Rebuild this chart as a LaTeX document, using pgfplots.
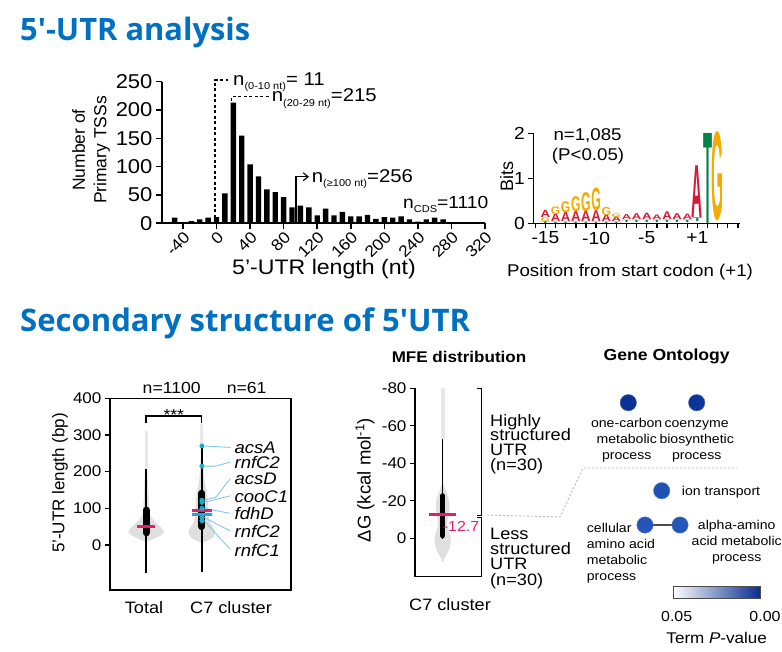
\documentclass[border=0pt]{standalone}
\usepackage{fontspec}
\setmainfont{Liberation Sans}[FakeStretch=1.1]
\newfontfamily\rotfont{Liberation Sans}
\newfontfamily\titlefont{Open Sans}
\usepackage{graphicx}
\usepackage{pgfplots}
\pgfplotsset{compat=1.18}
\usetikzlibrary{arrows.meta}
\newcommand\fs[1]{\fontsize{#1}{#1}\selectfont}
\newcommand\sub[1]{\raisebox{-4.5pt}{\fs{10}#1}}
\definecolor{titleblue}{RGB}{0,112,192}
\definecolor{vmag}{RGB}{228,30,110}
\definecolor{vblue}{RGB}{40,160,230}
\definecolor{vcyan}{RGB}{20,175,205}
\definecolor{lead}{RGB}{120,195,235}
\definecolor{logoA}{RGB}{215,25,55}
\definecolor{logoG}{RGB}{245,170,0}
\definecolor{logoT}{RGB}{0,130,70}
\definecolor{goDark}{RGB}{8,45,145}
\pgfplotsset{colormap={goblue}{rgb255(0cm)=(8,45,145) rgb255(1cm)=(40,90,190) rgb255(5cm)=(255,255,255)}}
\begin{document}
\begin{tikzpicture}
\useasboundingbox (0,0) rectangle (782pt,651pt);
\fill[white] (0,0) rectangle (782pt,651pt);

% ---------------- histogram
\begin{axis}[at={(162pt,427.7pt)}, anchor=south west, scale only axis,
  width=323pt, height=141.6pt, xmin=-65, xmax=320, ymin=0, ymax=250,
  axis lines=left, axis line style={-, line width=1.6pt},
  tick style={black, line width=1.6pt}, major tick length=6pt, tick align=outside,
  xtick={-40,0,...,320}, ytick={0,50,...,250},
  xticklabel style={rotate=45, anchor=north east, font=\fs{16}, inner sep=0.5pt},
  yticklabel style={font=\fs{20}},
  /pgf/number format/assume math mode=true, clip=false]
\addplot[ybar, bar width=5.4pt, fill=black, draw=none] coordinates {
(-50,10) (-40,1.5) (-30,4) (-20,7) (-10,10) (0,11) (10,53) (20,213) (30,155)
(40,104) (50,83) (60,60) (70,55) (80,46) (90,28) (100,31) (110,28) (120,14)
(130,26) (140,14) (150,20) (160,12) (170,12) (180,15) (190,8) (200,11) (210,10)
(220,12) (230,7) (240,3) (250,7) (260,10) (270,7) (290,2)};
\end{axis}

% ---------------- sequence logo
\begin{axis}[at={(533.3pt,427.7pt)}, anchor=south west, scale only axis,
  width=206.7pt, height=90pt, xmin=-16.2, xmax=4.2, ymin=0, ymax=2,
  axis lines=left, axis line style={-, line width=1.5pt},
  tick style={black, line width=1.3pt}, major tick length=5pt, minor tick length=5pt,
  tick align=outside, xtick={-15,-10,-5,0}, xticklabels={-15,-10,-5,+1},
  minor xtick={-16,...,4}, ytick={0,1,2}, ticklabel style={font=\fs{17.5}},
  /pgf/number format/assume math mode=true, clip=false]
\addplot[draw=none, mark=none, nodes near coords={\resizebox{\ww pt}{\hh pt}{\bfseries T}},
  every node near coord/.style={anchor=south, inner sep=0pt, outer sep=0pt, text=logoT},
  visualization depends on={45*\thisrow{h} \as \hh},
  visualization depends on={\thisrow{w} \as \ww}] table {
x y h w
-15 0 0.04 9
-14 0 0.03 9
-13 0 0.03 9
-12 0 0.03 9
-11 0 0.03 9
-10 0 0.03 9
-9 0 0.03 9
-8 0 0.03 9
-7 0.02 0.05 9
-6 0.02 0.05 9
-5 0.02 0.05 9
-4 0.02 0.05 9
-3 0.02 0.05 9
-2 0.02 0.05 9
-1 0.02 0.05 9
0 0.03 0.08 9
1 0 2.0 9
};
\addplot[draw=none, mark=none, nodes near coords={\resizebox{\ww pt}{\hh pt}{\bfseries A}},
  every node near coord/.style={anchor=south, inner sep=0pt, outer sep=0pt, text=logoA},
  visualization depends on={45*\thisrow{h} \as \hh},
  visualization depends on={\thisrow{w} \as \ww}] table {
x y h w
-15 0.12 0.16 9.5
-14 0.03 0.17 9.5
-13 0.03 0.20 9.5
-12 0.03 0.22 9.5
-11 0.03 0.23 9.5
-10 0.03 0.24 9.5
-9 0.03 0.15 9.5
-8 0.03 0.10 9.5
-7 0.08 0.11 9.5
-6 0.08 0.13 9.5
-5 0.08 0.14 9.5
-4 0.08 0.10 9.5
-3 0.08 0.17 9.5
-2 0.08 0.13 9.5
-1 0.08 0.12 9.5
0 0.13 1.15 11
};
\addplot[draw=none, mark=none, nodes near coords={\resizebox{\ww pt}{\hh pt}{\bfseries G}},
  every node near coord/.style={anchor=south, inner sep=0pt, outer sep=0pt, text=logoG},
  visualization depends on={45*\thisrow{h} \as \hh},
  visualization depends on={\thisrow{w} \as \ww}] table {
x y h w
-15 0.04 0.08 9.5
-14 0.20 0.17 9.5
-13 0.23 0.24 9.5
-12 0.25 0.33 9.5
-11 0.26 0.42 9.5
-10 0.27 0.50 9.5
-9 0.18 0.18 9.5
-8 0.13 0.08 9.5
2 0.05 1.95 12
};
\end{axis}

% ---------------- violin plot
\begin{axis}[at={(110pt,61pt)}, anchor=south west, scale only axis,
  width=181pt, height=191.7pt, xmin=-0.65, xmax=2.6, ymin=-123, ymax=400,
  axis line style={line width=1.3pt}, xtick=\empty, ytick={0,100,...,400},
  ytick pos=left, tick align=outside, major tick length=5pt,
  tick style={black, line width=1.3pt}, yticklabel style={font=\fs{15.5}},
  /pgf/number format/assume math mode=true, clip=false]
% tails
\addplot[gray!18, line width=3pt] coordinates {(0,206) (0,312)};
\addplot[gray!18, line width=3pt] coordinates {(1,270) (1,330)};
% violins
\addplot[fill=gray!25, draw=none] coordinates {
(0,8) (0.108,15) (0.251,25) (0.323,35) (0.287,45) (0.215,55) (0.144,65) (0.09,75)
(0.063,85) (0.054,100) (0.043,130) (0.032,160) (0.022,200) (0,210) (-0.022,200)
(-0.032,160) (-0.043,130) (-0.054,100) (-0.063,85) (-0.09,75) (-0.144,65)
(-0.215,55) (-0.287,45) (-0.323,35) (-0.251,25) (-0.108,15)} -- cycle;
\addplot[fill=gray!25, draw=none] coordinates {
(1,5) (1.108,12) (1.197,20) (1.233,30) (1.233,40) (1.197,50) (1.153,60) (1.126,75)
(1.117,90) (1.108,110) (1.099,130) (1.081,150) (1.054,170) (1.032,200) (1.018,240)
(1,270) (0.982,240) (0.968,200) (0.946,170) (0.919,150) (0.901,130) (0.892,110)
(0.883,90) (0.874,75) (0.847,60) (0.803,50) (0.767,40) (0.767,30) (0.803,20)
(0.892,12)} -- cycle;
% whiskers and boxes
\addplot[black, line width=1.6pt] coordinates {(0,-77) (0,206)};
\addplot[black, line width=1.6pt] coordinates {(1,-73) (1,270)};
\addplot[black, line width=7pt, line cap=round] coordinates {(0,33) (0,95)};
\addplot[black, line width=7pt, line cap=round] coordinates {(1,50) (1,141)};
% leader lines
\addplot[lead, line width=0.8pt] coordinates {(1.04,270) (1.51,266)};
\addplot[lead, line width=0.8pt] coordinates {(1.04,215) (1.25,215) (1.51,226)};
\addplot[lead, line width=0.8pt] coordinates {(1.04,122) (1.25,130) (1.51,181)};
\addplot[lead, line width=0.8pt] coordinates {(1.04,116) (1.51,134)};
\addplot[lead, line width=0.8pt] coordinates {(1.04,100) (1.51,86)};
\addplot[lead, line width=0.8pt] coordinates {(1.04,75) (1.51,38)};
\addplot[lead, line width=0.8pt] coordinates {(1.04,66) (1.51,-12)};
% medians
\addplot[vmag, line width=3pt] coordinates {(-0.16,50) (0.16,50)};
\addplot[vmag, line width=3pt] coordinates {(0.82,93) (1.18,93)};
\addplot[vblue, line width=3pt] coordinates {(0.82,83) (1.18,83)};
% dots
\addplot[only marks, mark=*, mark size=2.2pt, vcyan] coordinates {
(1,270) (1,215) (1,122) (1,116) (1,100) (1,75) (1,66)};
\foreach \yy/\tt in {264.5/acsA, 224/rnfC2, 179/acsD, 132/cooC1, 84.5/fdhD, 36/rnfC2, -14/rnfC1}{
  \edef\temp{\noexpand\node[anchor=west, inner sep=0pt, font=\noexpand\fs{16.8}\noexpand\itshape] at (axis cs:1.585,\yy) {\tt};}
  \temp}
\end{axis}

% ---------------- MFE
\begin{axis}[at={(415pt,74.3pt)}, anchor=south west, scale only axis,
  width=66.7pt, height=188.4pt, xmin=-0.83, xmax=1.17, ymin=-80, ymax=20.5,
  y dir=reverse, axis line style={draw=none}, xtick=\empty, ytick={-80,-60,...,0},
  ytick pos=left, tick align=outside, major tick length=5pt,
  tick style={black, line width=1.3pt}, yticklabel style={font=\fs{15.5}},
  /pgf/number format/assume math mode=true, clip=false]
\draw[line width=1.3pt] (axis cs:-0.83,-80) -- (axis cs:-0.83,20.5) -- (axis cs:1.17,20.5);
\draw[line width=1.3pt] (axis cs:1.02,-80) -- (axis cs:1.17,-80) -- (axis cs:1.17,-12.3) -- (axis cs:1.02,-12.3);
\draw[line width=1.3pt] (axis cs:1.02,-11.2) -- (axis cs:1.17,-11.2) -- (axis cs:1.17,20.5);
\addplot[gray!18, line width=4pt] coordinates {(0,-53) (0,-80)};
\addplot[fill=gray!25, draw=none] coordinates {
(0,-30) (0.06,-27) (0.12,-24) (0.195,-20) (0.21,-16) (0.18,-13) (0.15,-10) (0.135,-7)
(0.18,-4) (0.24,-1) (0.24,2) (0.21,5) (0.135,8) (0.045,11) (0,13) (-0.045,11)
(-0.135,8) (-0.21,5) (-0.24,2) (-0.24,-1) (-0.18,-4) (-0.135,-7) (-0.15,-10)
(-0.18,-13) (-0.21,-16) (-0.195,-20) (-0.12,-24) (-0.06,-27)} -- cycle;
\addplot[black, line width=1.6pt] coordinates {(0,0.5) (0,-53)};
\addplot[black, line width=5pt, line cap=round] coordinates {(0,-1.3) (0,-22.7)};
\addplot[vmag, line width=3pt] coordinates {(-0.41,-12.7) (0.41,-12.7)};
\end{axis}

% ---------------- overlay (pixel coordinates)
\begin{axis}[at={(0pt,0pt)}, anchor=south west, scale only axis, width=782pt, height=651pt,
  xmin=0, xmax=782, ymin=0, ymax=651, y dir=reverse, hide axis, clip=false]
% titles
\node[anchor=base west, inner sep=0pt, text=titleblue] at (20,40) {\resizebox{230pt}{!}{\titlefont\bfseries 5′-UTR analysis}};
\node[anchor=base west, inner sep=0pt, text=titleblue] at (20,331) {\resizebox{450pt}{!}{\titlefont\bfseries Secondary structure of 5′UTR}};
% histogram labels
\node[rotate=90, align=center, font=\rotfont\fontsize{17.5}{21.5}\selectfont] at (91,150) {Number of\\Primary TSSs};
\node[anchor=base, font=\fs{21}] at (324,274) {5’-UTR length (nt)};
\draw[dashed, line width=1.1pt, dash pattern=on 3pt off 2.5pt] (215,223.3) -- (215,80) -- (228,80);
\draw[dashed, line width=1.1pt, dash pattern=on 3pt off 2.5pt] (231.7,101) -- (231.7,96.7) -- (270,96.7);
\draw[line width=1.1pt, -{Straight Barb[length=5pt,width=8pt]}] (296,223.3) -- (296,176.7) -- (309,176.7);
\node[anchor=base west, inner sep=0pt, font=\fs{18.5}] at (233,85) {n\sub{(0-10 nt)}= 11};
\node[anchor=base west, inner sep=0pt, font=\fs{18.5}] at (271.7,101.7) {n\sub{(20-29 nt)}=215};
\node[anchor=base west, inner sep=0pt, font=\fs{18.5}] at (311.7,182) {n\sub{(≥100 nt)}=256};
\node[anchor=base west, inner sep=0pt, font=\fs{17.5}] at (403,208) {n\sub{CDS}=1110};
% logo labels
\node[rotate=90, font=\rotfont\fs{18}] at (506.7,176.7) {Bits};
\node[anchor=base, font=\fs{17}] at (630,276.7) {Position from start codon (+1)};
\node[anchor=base west, inner sep=0pt, font=\fs{17}] at (553.3,140) {n=1,085};
\node[anchor=base west, inner sep=0pt, font=\fs{17}] at (551.7,160) {(P<0.05)};
% violin labels
\node[rotate=90, font=\rotfont\fs{17}] at (60,483) {5’-UTR length (bp)};
\node[font=\fs{16}] at (171.7,387.7) {n=1100};
\node[font=\fs{16}] at (246.7,387.7) {n=61};
\draw[line width=1.2pt] (146,422.7) -- (146,416) -- (201.7,416) -- (201.7,422.7);
\node[anchor=base, inner sep=0pt, font=\fs{16}] at (173.8,420) {***};
\node[font=\fs{16.5}] at (144,608) {Total};
\node[font=\fs{16.5}] at (231,608) {C7 cluster};
% MFE labels
\node[font=\fs{15.5}\bfseries] at (459,357) {MFE distribution};
\node[rotate=90, font=\rotfont\fs{18.5}] at (365,480) {ΔG (kcal mol\textsuperscript{-1})};
\node[font=\fs{16.5}] at (450,605) {C7 cluster};
\node[font=\fs{14.5}, text=vmag] at (461,526.7) {-12.7};
\foreach \yy/\tt in {426/Highly, 440.5/structured, 455/UTR, 470.5/(n=30), 539.3/Less, 554/structured, 569.3/UTR, 585/(n=30)}{
  \edef\temp{\noexpand\node[anchor=base west, inner sep=0pt, font=\noexpand\fs{16.5}] at (490,\yy) {\tt};}
  \temp}
\draw[gray!55, line width=0.9pt, dash pattern=on 2pt off 2pt] (487,515) -- (560,517) -- (583,468) -- (737,468);
% GO
\node[font=\fs{16}\bfseries] at (666.7,356.7) {Gene Ontology};
\draw[black!70, line width=1.2pt] (645,525) -- (680,525);
\addplot[scatter, only marks, mark=*, mark size=8.2pt, scatter src=explicit,
  point meta min=0, point meta max=0.05, colormap name=goblue,
  scatter/use mapped color={draw=mapped color!75!white, fill=mapped color}]
  table[x=x, y=y, meta=p] {
x y p
628.3 402.7 0.001
696.7 402.7 0.0015
661.7 490.7 0.008
645 525 0.009
680 525 0.009
};
\foreach \yy/\tt in {427/one-carbon, 443/metabolic, 459/process}{
  \edef\temp{\noexpand\node[anchor=base, inner sep=0pt, font=\noexpand\fs{12.8}] at (626.7,\yy) {\tt};}\temp}
\foreach \yy/\tt in {427/coenzyme, 443/biosynthetic, 459/process}{
  \edef\temp{\noexpand\node[anchor=base, inner sep=0pt, font=\noexpand\fs{12.8}] at (696.7,\yy) {\tt};}\temp}
\node[anchor=base west, inner sep=0pt, font=\fs{12.8}] at (681.7,495) {ion transport};
\foreach \yy/\tt in {532.7/cellular, 548.3/amino acid, 564.3/metabolic, 580/process}{
  \edef\temp{\noexpand\node[anchor=base west, inner sep=0pt, font=\noexpand\fs{12.8}] at (586.7,\yy) {\tt};}\temp}
\foreach \yy/\tt in {529.3/alpha-amino, 545.7/acid metabolic, 561/process}{
  \edef\temp{\noexpand\node[anchor=base, inner sep=0pt, font=\noexpand\fs{12.8}] at (736.7,\yy) {\tt};}\temp}
\shade[left color=white, middle color={rgb,255:red,120;green,150;blue,215}, right color=goDark] (673,586) rectangle (760,598);
\draw[black!70, line width=0.8pt] (673,586) rectangle (760,598);
\node[font=\fs{14.5}] at (676.7,616.7) {0.05};
\node[font=\fs{14.5}] at (765,616.7) {0.00};
\node[font=\fs{15.5}] at (716.7,638) {Term \textit{P}-value};
\end{axis}
\end{tikzpicture}
\end{document}
